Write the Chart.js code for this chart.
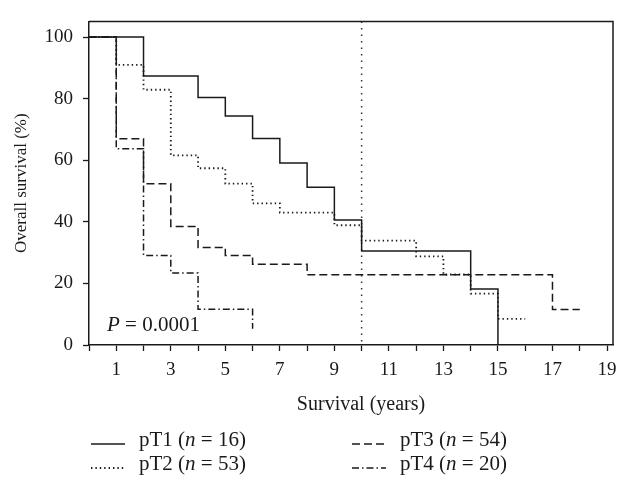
<!DOCTYPE html>
<html>
<head>
<meta charset="utf-8">
<script src="https://cdn.jsdelivr.net/npm/chart.js@4.4.1/dist/chart.umd.min.js"></script>
<style>
  html, body { margin: 0; padding: 0; background: #fff; }
</style>
</head>
<body>
<canvas id="km" width="627" height="477"></canvas>
<script>
// Kaplan-Meier curves, values (years, % surviving)
const pT1Years = [0, 2, 4, 5, 6, 7, 8, 9, 10, 14, 15];
const pT1Surv = [100, 87.4, 80.4, 74.4, 67.1, 59.1, 51.2, 40.6, 30.5, 18.2, 0];
const pT2Years = [0, 1, 2, 3, 4, 5, 6, 7, 9, 10, 12, 13, 14, 15, 16];
const pT2Surv = [100, 91.0, 82.9, 61.6, 57.4, 52.4, 46.0, 43.0, 38.9, 33.9, 28.8, 22.9, 16.7, 8.5, 8.5];
const pT3Years = [0, 1, 2, 3, 4, 5, 6, 8, 17, 18];
const pT3Surv = [100, 67.0, 52.4, 38.5, 31.7, 29.1, 26.2, 22.8, 11.5, 11.5];
const pT4Years = [0, 1, 2, 3, 4, 6];
const pT4Surv = [100, 63.7, 29.1, 23.4, 11.6, 5.3];

const seriesNames = ['pT1', 'pT2', 'pT3', 'pT4'];
const seriesN = [16, 53, 54, 20];

const xTicks = [0, 1, 2, 3, 4, 5, 6, 7, 8, 9, 10, 11, 12, 13, 14, 15, 16, 17, 18, 19];
const xTickLabels = ['1', '3', '5', '7', '9', '11', '13', '15', '17', '19'];
const yTicks = [0, 20, 40, 60, 80, 100];
const refYear = 10;
const pValue = '0.0001';
const xTitle = 'Survival (years)';

const serif = "'Liberation Serif', 'DejaVu Serif', serif";
const ink = '#1a1a1a';

function toPoints(xs, ys) {
    return xs.map((x, i) => ({ x: x, y: ys[i] }));
}

const styles = [
    { dash: [], width: 1.5 },
    { dash: [1.4, 3], width: 1.8 },
    { dash: [8, 4], width: 1.5 },
    { dash: [7, 3, 1.5, 3], width: 1.5 }
];
const allYears = [pT1Years, pT2Years, pT3Years, pT4Years];
const allSurv = [pT1Surv, pT2Surv, pT3Surv, pT4Surv];

const datasets = seriesNames.map((name, i) => ({
    label: name,
    data: toPoints(allYears[i], allSurv[i]),
    borderColor: ink,
    borderWidth: styles[i].width,
    borderDash: styles[i].dash,
    borderCapStyle: 'butt',
    stepped: true,
    pointRadius: 0,
    fill: false
}));

// frame, reference line, x title, p value and legend
const extras = {
    id: 'extras',
    beforeDatasetsDraw(chart) {
        const { ctx, chartArea, scales } = chart;
        const x = scales.x.getPixelForValue(refYear);
        ctx.save();
        ctx.strokeStyle = '#333';
        ctx.lineWidth = 1.5;
        ctx.setLineDash([1.5, 5]);
        ctx.beginPath();
        ctx.moveTo(x, chartArea.top);
        ctx.lineTo(x, chartArea.bottom);
        ctx.stroke();
        ctx.restore();
    },
    afterDraw(chart) {
        const { ctx, chartArea } = chart;
        ctx.save();
        ctx.strokeStyle = ink;
        ctx.lineWidth = 1.5;
        ctx.beginPath();
        ctx.moveTo(chartArea.left, chartArea.top);
        ctx.lineTo(chartArea.right, chartArea.top);
        ctx.lineTo(chartArea.right, chartArea.bottom);
        ctx.stroke();

        ctx.fillStyle = ink;

        // x axis title (sits a little right of the plot centre)
        ctx.font = '20px ' + serif;
        ctx.textAlign = 'center';
        ctx.textBaseline = 'middle';
        ctx.fillText(xTitle, (chartArea.left + chartArea.right) / 2 + 10, 405);
        ctx.textAlign = 'left';

        // p value
        ctx.textBaseline = 'alphabetic';
        let px = chartArea.left + 18;
        const py = chartArea.bottom - 14;
        ctx.font = 'italic 21px ' + serif;
        ctx.fillText('P', px, py);
        px += ctx.measureText('P').width;
        ctx.font = '21px ' + serif;
        ctx.fillText(' = ' + pValue, px, py);

        // legend, two columns
        const cols = [91, 352];
        const rows = [446, 470];
        chart.data.datasets.forEach((ds, i) => {
            const cx = cols[Math.floor(i / 2)];
            const cy = rows[i % 2];
            ctx.strokeStyle = ink;
            ctx.lineWidth = ds.borderWidth;
            ctx.setLineDash(ds.borderDash);
            ctx.beginPath();
            ctx.moveTo(cx, cy - 2);
            ctx.lineTo(cx + 34, cy - 2);
            ctx.stroke();
            ctx.setLineDash([]);
            let tx = cx + 48;
            ctx.font = '21px ' + serif;
            const a = ds.label + ' (';
            ctx.fillText(a, tx, cy);
            tx += ctx.measureText(a).width;
            ctx.font = 'italic 21px ' + serif;
            ctx.fillText('n', tx, cy);
            tx += ctx.measureText('n').width;
            ctx.font = '21px ' + serif;
            ctx.fillText(' = ' + seriesN[i] + ')', tx, cy);
        });
        ctx.restore();
    }
};

new Chart(document.getElementById('km'), {
    type: 'line',
    data: { datasets },
    options: {
        responsive: false,
        animation: false,
        layout: { padding: { top: 4, right: 14, bottom: 62, left: 0 } },
        plugins: { legend: { display: false }, tooltip: { enabled: false } },
        scales: {
            x: {
                type: 'linear',
                min: 0,
                max: 19.22,
                afterBuildTicks: scale => { scale.ticks = xTicks.map(v => ({ value: v })); },
                afterFit: scale => { scale.height = 70; },
                ticks: {
                    autoSkip: false,
                    maxRotation: 0,
                    padding: 8,
                    color: ink,
                    font: { family: serif, size: 19 },
                    callback: v => xTickLabels.includes(String(v)) ? String(v) : ''
                },
                grid: { drawOnChartArea: false, tickLength: 6, tickColor: ink, tickWidth: 1.3 },
                border: { color: ink, width: 1.5 }
            },
            y: {
                min: 0,
                max: 105.1,
                afterBuildTicks: scale => { scale.ticks = yTicks.map(v => ({ value: v })); },
                afterFit: scale => { scale.width = 89; },
                ticks: {
                    padding: 10,
                    color: ink,
                    font: { family: serif, size: 19 }
                },
                grid: { drawOnChartArea: false, tickLength: 6, tickColor: ink, tickWidth: 1.3 },
                border: { color: ink, width: 1.5 },
                title: {
                    display: true,
                    text: 'Overall survival (%)',
                    color: ink,
                    font: { family: serif, size: 17, lineHeight: 1 },
                    padding: { top: 13, bottom: 0 }
                }
            }
        }
    },
    plugins: [extras]
});
</script>
</body>
</html>
